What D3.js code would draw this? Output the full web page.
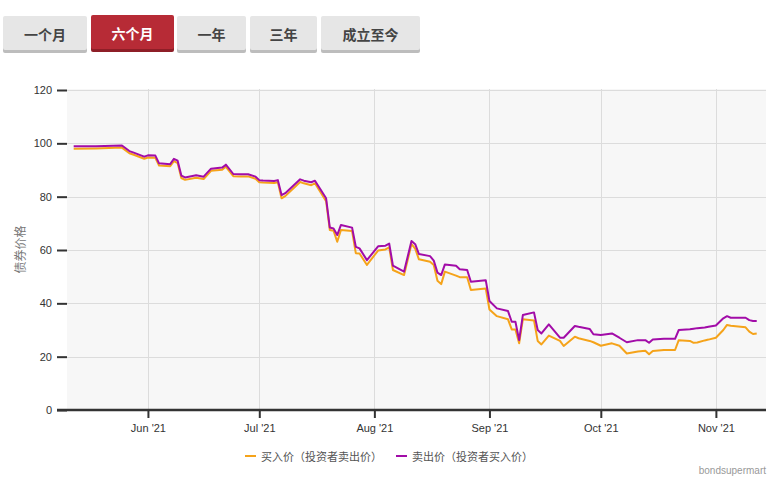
<!DOCTYPE html>
<html><head><meta charset="utf-8">
<script src="https://cdn.jsdelivr.net/npm/d3@7"></script>
<style>
body{margin:0;background:#fff;}
svg{display:block;font-family:"Liberation Sans",Arial,"Noto Sans CJK SC",sans-serif;}
</style>
</head><body>
<svg id="chart" width="774" height="482"></svg>
<script>
// ---- data ----
const dates = ["2021-05-12","2021-05-18","2021-05-25","2021-05-27","2021-05-28","2021-05-31","2021-06-01","2021-06-03","2021-06-04","2021-06-07","2021-06-08","2021-06-09","2021-06-10","2021-06-11","2021-06-14","2021-06-16","2021-06-18","2021-06-21","2021-06-22","2021-06-24","2021-06-26","2021-06-28","2021-06-30",
"2021-07-01","2021-07-02","2021-07-05","2021-07-06","2021-07-07","2021-07-08","2021-07-12","2021-07-13","2021-07-15","2021-07-16","2021-07-19","2021-07-20","2021-07-21","2021-07-22","2021-07-23","2021-07-26","2021-07-27","2021-07-28","2021-07-30",
"2021-08-02","2021-08-04","2021-08-05","2021-08-06","2021-08-09","2021-08-11","2021-08-12","2021-08-13","2021-08-16","2021-08-17","2021-08-18","2021-08-19","2021-08-20","2021-08-23","2021-08-24","2021-08-26","2021-08-27","2021-08-31",
"2021-09-01","2021-09-03","2021-09-06","2021-09-07","2021-09-08","2021-09-09","2021-09-10","2021-09-13","2021-09-14","2021-09-15","2021-09-17","2021-09-20","2021-09-21","2021-09-24","2021-09-25","2021-09-28","2021-09-29",
"2021-10-01","2021-10-04","2021-10-06","2021-10-08","2021-10-11","2021-10-13","2021-10-14","2021-10-15","2021-10-18","2021-10-21","2021-10-22","2021-10-25","2021-10-26","2021-10-27","2021-10-29","2021-10-30",
"2021-11-01","2021-11-03","2021-11-04","2021-11-05","2021-11-09","2021-11-10","2021-11-11","2021-11-12"];
const sellPrice = [98.9,98.9,99.2,97.1,96.6,95.0,95.5,95.4,92.5,92.2,94.2,93.5,87.9,87.2,88.0,87.5,90.5,90.9,92.0,88.5,88.4,88.4,87.5,
86.2,86.1,85.9,86.2,80.6,81.3,86.5,86.0,85.4,86.0,79.4,68.4,68.1,65.6,69.4,68.4,61.2,60.6,56.2,
61.4,61.6,62.4,54.1,51.9,63.4,62.2,58.5,57.7,56.0,51.5,50.6,54.6,54.1,52.8,52.5,48.1,48.7,
40.9,38.1,37.1,33.1,33.1,26.2,35.6,36.6,30.0,28.7,32.1,27.1,27.1,31.5,31.2,30.4,28.4,
28.1,28.7,27.1,25.4,26.2,26.2,25.2,26.4,26.7,26.7,30.0,30.3,30.5,30.7,30.9,31.2,
31.7,34.4,35.2,34.6,34.6,33.7,33.4,33.4];
const buyPrice = [98.0,98.1,98.4,96.3,95.8,94.2,94.7,94.6,91.7,91.4,93.3,92.6,87.0,86.3,87.1,86.6,89.7,90.1,91.2,87.7,87.6,87.6,86.7,
85.4,85.3,85.1,85.4,79.4,80.2,85.5,85.0,84.3,85.0,78.3,67.5,67.2,63.1,67.5,67.1,58.8,58.7,54.4,
59.8,60.2,61.0,52.5,50.6,62.2,60.5,56.5,55.6,54.4,48.5,47.2,51.9,50.4,49.8,49.8,45.0,45.6,
37.7,35.2,34.0,30.2,30.2,25.0,34.0,33.6,25.9,24.6,27.9,25.9,24.0,27.5,26.9,25.9,25.4,
24.1,25.0,24.1,21.2,21.9,22.2,20.9,22.1,22.5,22.5,26.2,25.9,25.2,25.3,26.1,26.4,
27.1,30.0,31.9,31.6,31.0,29.4,28.5,28.7];
const yTicks = [0,20,40,60,80,100,120];
const seriesNames = ["买入价（投资者卖出价）","卖出价（投资者买入价）"];
const seriesColors = ["#f5a31a","#a20ca8"];
const buttonLabels = ["一个月","六个月","一年","三年","成立至今"];
const activeButton = 1;
const yTitle = "债券价格";
const credit = "bondsupermart";

// ---- layout ----
const svg = d3.select("#chart");
const L = 67, R = 766, T = 89, B = 410;
const parse = d3.utcParse("%Y-%m-%d");
const pts = dates.map((d,i)=>({date:parse(d), buy:buyPrice[i], sell:sellPrice[i]}));

const x = d3.scaleUtc()
  .domain([new Date(Date.UTC(2021,4,10,4,48)), new Date(Date.UTC(2021,10,14,12))])
  .range([L,R]);
const y = d3.scaleLinear().domain([0,120]).range([B,T+1]);

// buttons
const btnX = [3,91,177,250,321], btnW = [84,83,69,67,99];
const bg = svg.append("g");
buttonLabels.forEach((lab,i)=>{
  const act = i===activeButton;
  const g = bg.append("g").attr("transform",`translate(${btnX[i]},${act?15:16})`);
  g.append("rect").attr("x",0).attr("y",2).attr("width",btnW[i]).attr("height",35).attr("rx",2)
    .attr("fill", act ? "#8e1e27" : "#bdbdbd");
  g.append("rect").attr("x",0).attr("y",0).attr("width",btnW[i]).attr("height",34).attr("rx",2)
    .attr("fill", act ? "#b72b36" : "#e6e6e6");
  g.append("text").attr("x",btnW[i]/2).attr("y",18).attr("text-anchor","middle")
    .attr("dominant-baseline","central")
    .attr("font-family","'Noto Sans CJK SC',sans-serif").attr("font-weight","bold")
    .attr("font-size",14).attr("fill", act ? "#fff" : "#444").text(lab);
});

// plot bg
svg.append("rect").attr("x",L).attr("y",T).attr("width",R-L).attr("height",B-T).attr("fill","#f7f7f7");

// grid
const months = x.ticks(d3.utcMonth.every(1));
svg.append("g").selectAll("line").data(months).join("line")
  .attr("x1",d=>Math.round(x(d))+0.5).attr("x2",d=>Math.round(x(d))+0.5)
  .attr("y1",T).attr("y2",B).attr("stroke","#dcdcdc").attr("stroke-width",1);
svg.append("g").selectAll("line").data(yTicks.filter(v=>v>0)).join("line")
  .attr("x1",L).attr("x2",R).attr("y1",d=>Math.round(y(d))+0.5).attr("y2",d=>Math.round(y(d))+0.5)
  .attr("stroke","#dcdcdc").attr("stroke-width",1);

// y axis
const yAxis = d3.axisLeft(y).tickValues(yTicks).tickSize(10).tickPadding(5);
const gy = svg.append("g").attr("transform",`translate(${L},0)`).call(yAxis);
gy.select(".domain").remove();
gy.selectAll(".tick line").attr("stroke","#333").attr("stroke-width",2);
gy.selectAll(".tick text").attr("fill","#333").attr("font-size",11)
  .attr("font-family","'Liberation Sans',Arial,sans-serif");

// x axis
const xAxis = d3.axisBottom(x).tickValues(months).tickFormat(d3.utcFormat("%b '%y")).tickSize(8).tickPadding(6);
const gx = svg.append("g").attr("transform",`translate(0,${B})`).call(xAxis);
gx.select(".domain").remove();
gx.selectAll(".tick line").attr("stroke","#333").attr("stroke-width",2);
gx.selectAll(".tick text").attr("fill","#333").attr("font-size",11)
  .attr("font-family","'Liberation Sans',Arial,sans-serif");
svg.append("line").attr("x1",57).attr("x2",R).attr("y1",B).attr("y2",B)
  .attr("stroke","#333").attr("stroke-width",2.5);

// y title
svg.append("text").attr("transform",`translate(25,${(T+B)/2}) rotate(-90)`)
  .attr("text-anchor","middle").attr("font-size",12).attr("fill","#777")
  .attr("font-family","'Noto Sans CJK SC',sans-serif").text(yTitle);

// lines
const lineBuy = d3.line().x(d=>x(d.date)).y(d=>y(d.buy));
const lineSell = d3.line().x(d=>x(d.date)).y(d=>y(d.sell));
svg.append("path").datum(pts).attr("d",lineBuy).attr("fill","none")
  .attr("stroke",seriesColors[0]).attr("stroke-width",2).attr("stroke-linejoin","round");
svg.append("path").datum(pts).attr("d",lineSell).attr("fill","none")
  .attr("stroke",seriesColors[1]).attr("stroke-width",2).attr("stroke-linejoin","round");

// legend
const legX = [245,396];
seriesNames.forEach((n,i)=>{
  const g = svg.append("g").attr("transform",`translate(${legX[i]},456)`);
  g.append("line").attr("x1",0).attr("x2",11).attr("y1",0).attr("y2",0)
    .attr("stroke",seriesColors[i]).attr("stroke-width",2);
  g.append("text").attr("x",16).attr("y",0).attr("dominant-baseline","central")
    .attr("font-size",11).attr("fill","#555")
    .attr("font-family","'Noto Sans CJK SC',sans-serif").text(n);
});

// credit
svg.append("text").attr("x",766).attr("y",474).attr("text-anchor","end")
  .attr("font-size",10).attr("fill","#999")
  .attr("font-family","'Liberation Sans',Arial,sans-serif").text(credit);
</script>
</body></html>
